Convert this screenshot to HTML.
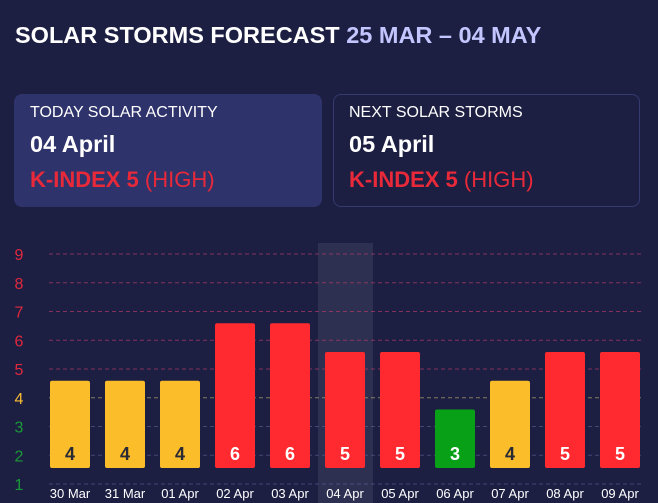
<!DOCTYPE html>
<html><head><meta charset="utf-8"><style>
html,body{margin:0;padding:0;}
body{width:658px;height:503px;background:#1c1f42;font-family:"Liberation Sans",sans-serif;position:relative;overflow:hidden;color:#fff;}
.title{position:absolute;left:15px;top:22px;font-size:23.5px;font-weight:bold;white-space:nowrap;}
.title span{color:#c3c5ff;}
.card{position:absolute;top:94px;height:113px;width:308px;border-radius:8px;box-sizing:border-box;}
.c1{left:14px;background:#2f336b;}
.c2{left:333px;width:307px;border:1px solid #353a70;}
.l1{position:absolute;left:16px;top:10px;font-size:16px;}
.l2{position:absolute;left:16px;top:37px;font-size:23.5px;font-weight:bold;}
.l3{position:absolute;left:16px;top:73px;font-size:22px;color:#e8293a;}
.c2 .l1,.c2 .l2,.c2 .l3{left:15px;top:9px;}
.c2 .l2{top:36px}.c2 .l3{top:72px}
.l3 b{font-weight:bold;}
svg{position:absolute;left:0;top:0;}
</style></head><body>
<div class="title">SOLAR STORMS FORECAST <span>25 MAR – 04 MAY</span></div>
<div class="card c1">
<div class="l1">TODAY SOLAR ACTIVITY</div><div class="l2">04 April</div><div class="l3"><b>K-INDEX 5</b> (HIGH)</div></div>
<div class="card c2">
<div class="l1">NEXT SOLAR STORMS</div><div class="l2">05 April</div><div class="l3"><b>K-INDEX 5</b> (HIGH)</div></div>
<svg id="chart" width="658" height="503"></svg>
<script>
const categories=["30 Mar","31 Mar","01 Apr","02 Apr","03 Apr","04 Apr","05 Apr","06 Apr","07 Apr","08 Apr","09 Apr"];
const values=[4,4,4,6,6,5,5,3,4,5,5];
const yTicks=[1,2,3,4,5,6,7,8,9];
const highlightIndex=5;
const NS="http://www.w3.org/2000/svg";
const svg=document.getElementById('chart');
function y(v){return 484-(v-1)*28.75;}
function x(i){return 50+i*55;}
const bw=40,baseY=468;
function colorFor(v){return v>=5?'#ff2a2f':(v==4?'#fcbd2a':'#07a016');}
function tickColor(v){return v>=5?'#e0283c':(v==4?'#f7bb33':'#1a9a37');}
function gridColor(v){return v>=5?'rgba(200,60,110,0.6)':(v==4?'rgba(220,200,120,0.55)':'rgba(110,110,170,0.5)');}
function mk(t,a){const e=document.createElementNS(NS,t);for(const k in a)e.setAttribute(k,a[k]);svg.appendChild(e);return e;}
let hl=mk('rect',{x:x(highlightIndex)-7,y:243,width:55,height:260,fill:'rgba(255,255,255,0.08)'});


yTicks.forEach(v=>{
 let g=mk('line',{x1:49,x2:641,y1:y(v),y2:y(v),stroke:gridColor(v),'stroke-width':1,'stroke-dasharray':'4,3'});
 
 
 let t=mk('text',{x:19,y:y(v)+6,'text-anchor':'middle','font-size':16,fill:tickColor(v),'font-family':'Liberation Sans, sans-serif'});
 t.textContent=v;
 
 
});
values.forEach((v,i)=>{
 const top=y(v)-17;
 let r=mk('rect',{x:x(i),y:top,width:bw,height:baseY-top,rx:2,fill:colorFor(v)});
 
 
 let t=mk('text',{x:x(i)+bw/2,y:460,'text-anchor':'middle','font-size':18,'font-weight':'bold',fill:v==4?'#2a2a35':'#fff','font-family':'Liberation Sans, sans-serif'});
 t.textContent=v;
 
 
 let c=mk('text',{x:x(i)+bw/2,y:498,'text-anchor':'middle','font-size':13,fill:'#fff','font-family':'Liberation Sans, sans-serif'});
 c.textContent=categories[i];
 
 
});
</script>
</body></html>
